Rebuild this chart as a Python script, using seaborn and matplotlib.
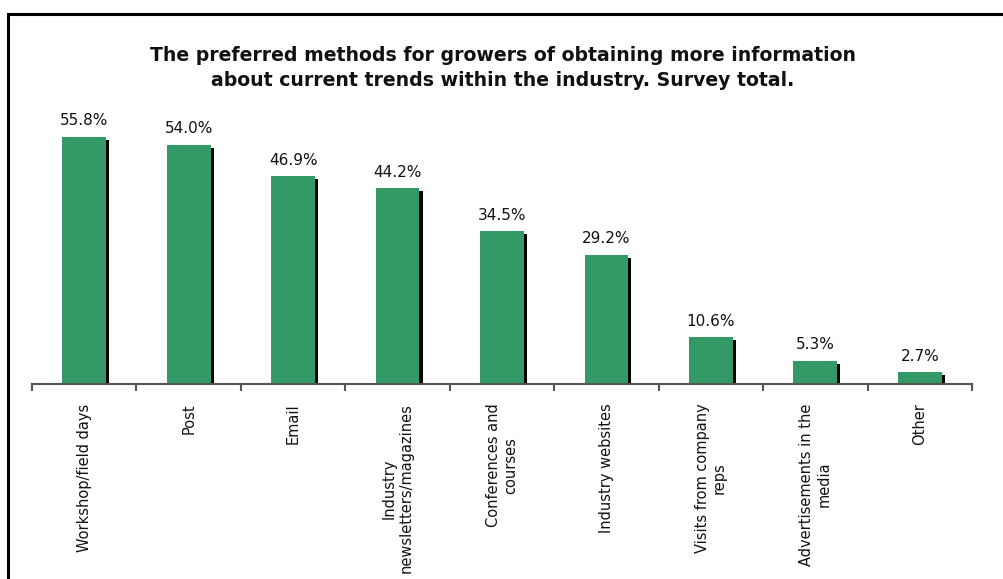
import matplotlib
matplotlib.use("Agg")
import matplotlib.pyplot as plt
import matplotlib.patheffects as pe
from matplotlib.patches import Rectangle
import seaborn as sns
import pandas as pd

categories = [
    "Workshop/field days",
    "Post",
    "Email",
    "Industry\nnewsletters/magazines",
    "Conferences and\ncourses",
    "Industry websites",
    "Visits from company\nreps",
    "Advertisements in the\nmedia",
    "Other",
]
values = [55.8, 54.0, 46.9, 44.2, 34.5, 29.2, 10.6, 5.3, 2.7]
title = ("The preferred methods for growers of obtaining more information\n"
         "about current trends within the industry. Survey total.")

df = pd.DataFrame({"method": categories, "pct": values})

sns.set_theme(style="white")
plt.rcParams["font.family"] = ["DejaVu Sans"]

W, H = 1004, 579
fig = plt.figure(figsize=(W / 100, H / 100), dpi=100)
fig.patch.set_facecolor("white")
ax = fig.add_axes([32 / W, (H - 384) / H, (972 - 32) / W, 284 / H])

sns.barplot(data=df, x="method", y="pct", color="#339966", saturation=1,
            width=0.42, ax=ax, edgecolor="none")

shadow = [pe.SimplePatchShadow(offset=(2.2, -2.2), shadow_rgbFace="black", alpha=1.0),
          pe.Normal()]
for p in ax.patches:
    p.set_path_effects(shadow)

for i, v in enumerate(values):
    ax.annotate(f"{v:.1f}%", (i, v), xytext=(0, 6), textcoords="offset points",
                ha="center", va="bottom", fontsize=11, color="#111111")

ax.set_ylim(0, 64.1)
ax.set_xlim(-0.5, len(categories) - 0.5)
ax.set_yticks([])
ax.set_xlabel("")
ax.set_ylabel("")
for s in ["top", "right", "left"]:
    ax.spines[s].set_visible(False)
ax.spines["bottom"].set_color("#555555")
ax.spines["bottom"].set_linewidth(1.5)

ax.set_xticks(range(len(categories)))
ax.set_xticklabels(categories, rotation=90, ha="center", va="top",
                   fontsize=10.5, multialignment="center", color="#111111")
ax.tick_params(axis="x", which="major", length=0, pad=14)
ax.set_xticks([i - 0.5 for i in range(len(categories) + 1)], minor=True)
ax.tick_params(axis="x", which="minor", length=5, width=1.5, color="#555555",
               direction="out", bottom=True)

fig.text(503 / W, 1 - 68 / H, title, ha="center", va="center", fontsize=13.6,
         fontweight="bold", color="#111111", linespacing=1.35)

fig.patches.append(Rectangle((8 / W, -0.1), 1.2, (1 - 14 / H) + 0.1,
                             transform=fig.transFigure, fill=False,
                             edgecolor="black", linewidth=2.2, clip_on=False))

fig.savefig("out.png", dpi=100, facecolor="white")
